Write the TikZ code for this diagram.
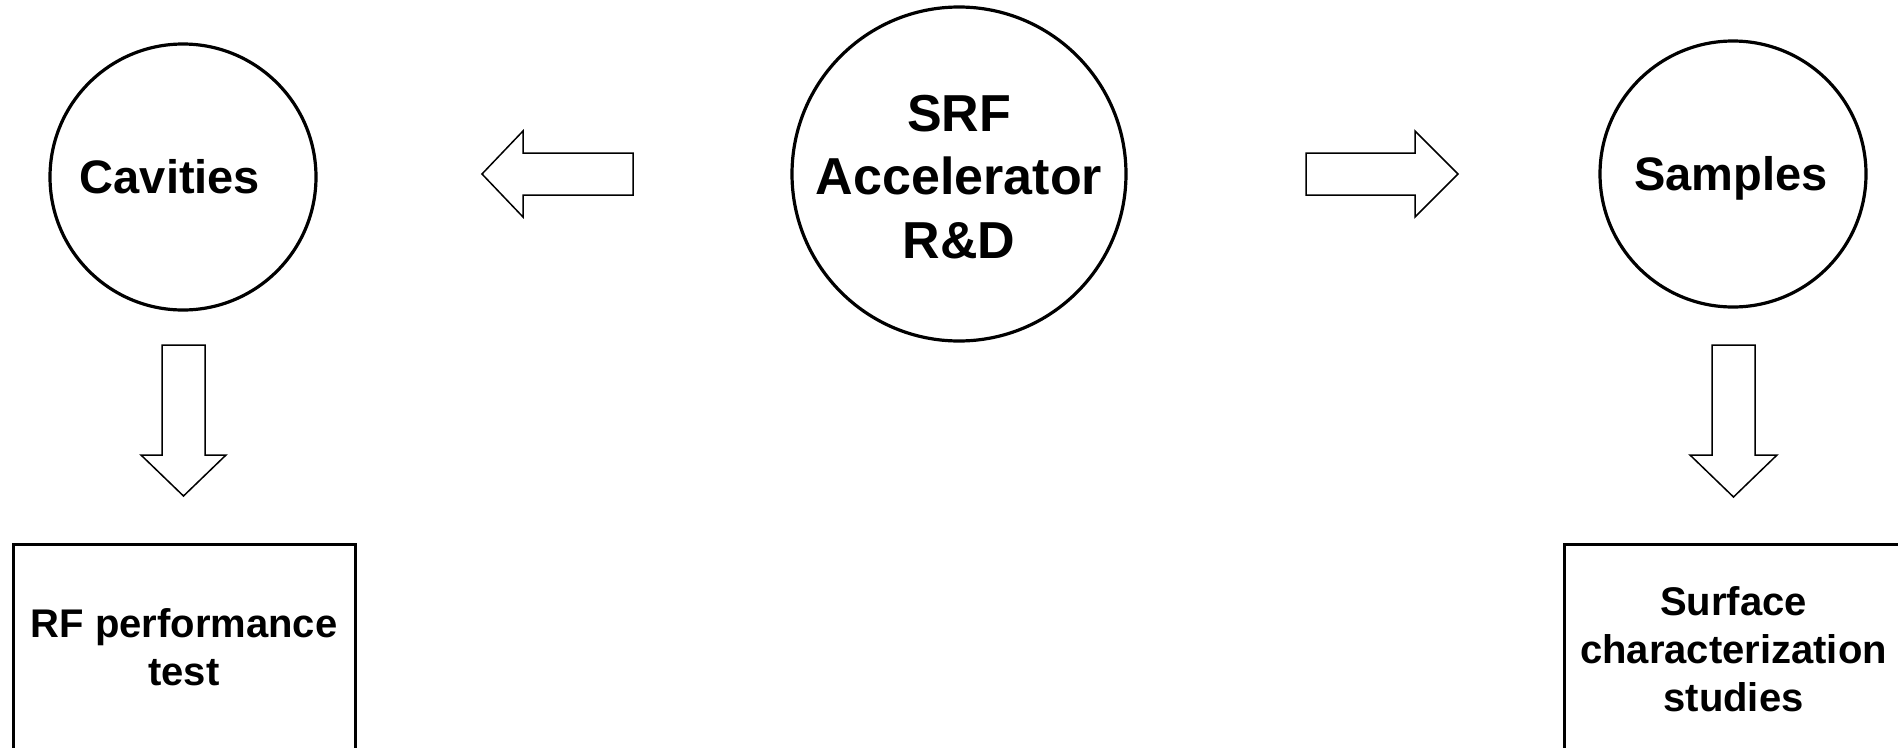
\documentclass[tikz,border=0pt]{standalone}
\usepackage{fontspec}
\setmainfont{Liberation Sans}
\begin{document}
\begin{tikzpicture}[x=1pt,y=-1pt,
  ring/.style={circle,draw,line width=3.2pt,inner sep=0pt},
  ringtext/.style={inner sep=0pt,align=center,font=\bfseries\fontsize{47}{56}\selectfont},
  blockarrow/.style={draw,line width=1.5pt,line join=miter,fill=white},
  boxnode/.style={draw,line width=3pt,align=center,inner sep=0pt,font=\bfseries\fontsize{40}{48}\selectfont}]
\useasboundingbox (0,0) rectangle (1898,747);
\clip (0,0) rectangle (1898,747);
% circles
\node[ring,minimum size=266pt] (cav) at (183,177) {};
\node[ringtext,text depth=0pt] (cavt) at (170,176) {Cavities};
\node[ring,minimum size=334pt] (srf) at (959,174) {};
\node[ringtext,font=\bfseries\fontsize{52}{63.8}\selectfont] (srft) at (959,177) {SRF\\Accelerator\\R\&D};
\node[ring,minimum size=266pt] (smp) at (1733,174) {};
\node[ringtext,text depth=0pt] (smpt) at (1731,173) {Samples};
% boxes
\node[boxnode,minimum width=342pt,minimum height=206pt,anchor=north] (rf) at (184,543) {RF performance\\test};
\node[boxnode,minimum width=338pt,minimum height=210pt,anchor=north west] (surf) at (1563,543) {Surface\\characterization\\studies};
% block arrows
\draw[blockarrow] (633,153) -- (523,153) -- (523,131) -- (482,174) -- (523,217) -- (523,195) -- (633,195) -- cycle;
\draw[blockarrow] (1306,153) -- (1415,153) -- (1415,131) -- (1458,174) -- (1415,217) -- (1415,195) -- (1306,195) -- cycle;
\draw[blockarrow] (162,345) -- (205,345) -- (205,455) -- (226,455) -- (183.5,496) -- (141,455) -- (162,455) -- cycle;
\draw[blockarrow] (1712,345) -- (1755,345) -- (1755,455) -- (1777,455) -- (1733.5,497) -- (1690,455) -- (1712,455) -- cycle;
\end{tikzpicture}
\end{document}
